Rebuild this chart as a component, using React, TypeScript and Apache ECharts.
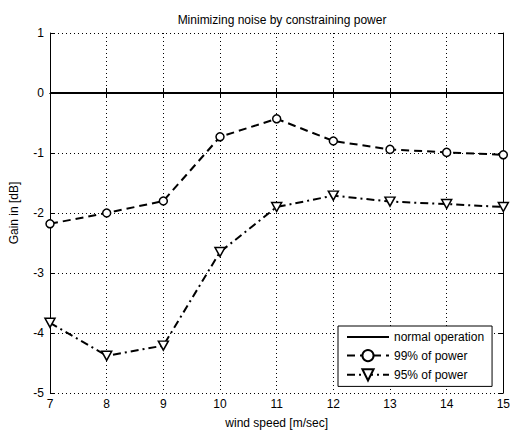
import React, { useEffect, useRef } from "react";
import * as echarts from "echarts";

const windSpeed = [7, 8, 9, 10, 11, 12, 13, 14, 15];
const normalOperation = [0, 0, 0, 0, 0, 0, 0, 0, 0];
const power99 = [-2.18, -2.0, -1.8, -0.73, -0.43, -0.8, -0.94, -0.99, -1.03];
const power95 = [-3.83, -4.38, -4.21, -2.65, -1.9, -1.71, -1.81, -1.85, -1.9];

const FONT = "Liberation Sans, Arial, sans-serif";

export default function App() {
  const ref = useRef<HTMLDivElement>(null);
  useEffect(() => {
    document.body.style.margin = "0";
    const chart = echarts.init(ref.current!, null, { renderer: "svg" });
    const pairs = (ys: number[]) => windSpeed.map((x, i) => [x, ys[i]]);
    const markerStyle = { color: "#fff", borderColor: "#000", borderWidth: 1.5 };
    chart.setOption({
      animation: false,
      backgroundColor: "#fff",
      textStyle: { fontFamily: FONT, color: "#000" },
      title: {
        text: "Minimizing noise by constraining power",
        left: 277,
        textAlign: "center",
        top: 9,
        textStyle: { fontSize: 12, fontWeight: "normal", color: "#000", fontFamily: FONT },
      },
      grid: { left: 48, top: 33, right: 7, bottom: 37 },
      xAxis: [
        {
          type: "value",
          min: 7,
          max: 15,
          interval: 1,
          name: "wind speed [m/sec]",
          nameLocation: "middle",
          nameGap: 24,
          nameTextStyle: { fontSize: 12, color: "#000", fontFamily: FONT },
          axisLine: { show: true, lineStyle: { color: "#000", width: 1 } },
          axisTick: { show: true, inside: true, length: 5, lineStyle: { color: "#000" } },
          axisLabel: { fontSize: 12, color: "#000", margin: 5, fontFamily: FONT },
          splitLine: { show: true, lineStyle: { type: [1, 3], color: "#000", width: 1 } },
        },
        {
          type: "value",
          position: "top",
          min: 7,
          max: 15,
          interval: 1,
          axisLine: { show: true, lineStyle: { color: "#000", width: 1 } },
          axisTick: { show: true, inside: true, length: 5, lineStyle: { color: "#000" } },
          axisLabel: { show: false },
          splitLine: { show: false },
        },
      ],
      yAxis: [
        {
          type: "value",
          min: -5,
          max: 1,
          interval: 1,
          name: "Gain in [dB]",
          nameLocation: "middle",
          nameGap: 30,
          nameTextStyle: { fontSize: 12, color: "#000", fontFamily: FONT },
          axisLine: { show: true, lineStyle: { color: "#000", width: 1 } },
          axisTick: { show: true, inside: true, length: 5, lineStyle: { color: "#000" } },
          axisLabel: { fontSize: 12, color: "#000", margin: 6, fontFamily: FONT },
          splitLine: { show: true, lineStyle: { type: [1, 3], color: "#000", width: 1 } },
        },
        {
          type: "value",
          position: "right",
          min: -5,
          max: 1,
          interval: 1,
          axisLine: { show: true, lineStyle: { color: "#000", width: 1 } },
          axisTick: { show: true, inside: true, length: 5, lineStyle: { color: "#000" } },
          axisLabel: { show: false },
          splitLine: { show: false },
        },
      ],
      legend: {
        orient: "vertical",
        left: 338,
        top: 326,
        padding: [5, 8, 5, 8],
        itemWidth: 42,
        itemHeight: 14,
        itemGap: 6,
        backgroundColor: "#fff",
        borderColor: "#000",
        borderWidth: 1,
        borderRadius: 0,
        textStyle: { fontSize: 12, color: "#000", fontFamily: FONT, padding: [0, 0, 0, 0] },
        data: [
          { name: "normal operation", itemStyle: { opacity: 0 } },
          { name: "99% of power" },
          { name: "95% of power" },
        ],
      },
      series: [
        {
          name: "normal operation",
          type: "line",
          data: pairs(normalOperation),
          showSymbol: false,
          symbol: "none",
          lineStyle: { color: "#000", width: 2, type: "solid" },
          itemStyle: { color: "#000" },
        },
        {
          name: "99% of power",
          type: "line",
          data: pairs(power99),
          symbol: "circle",
          symbolSize: 8,
          lineStyle: { color: "#000", width: 2, type: [8, 5] },
          itemStyle: markerStyle,
        },
        {
          name: "95% of power",
          type: "line",
          data: pairs(power95),
          symbol: "path://M0,0 L10,0 L5,9 Z",
          symbolSize: [10, 9],
          lineStyle: { color: "#000", width: 2, type: [8, 4, 2, 4] },
          itemStyle: markerStyle,
        },
      ],
    });
    return () => chart.dispose();
  }, []);
  return <div ref={ref} style={{ width: 513, height: 434 }} />;
}
